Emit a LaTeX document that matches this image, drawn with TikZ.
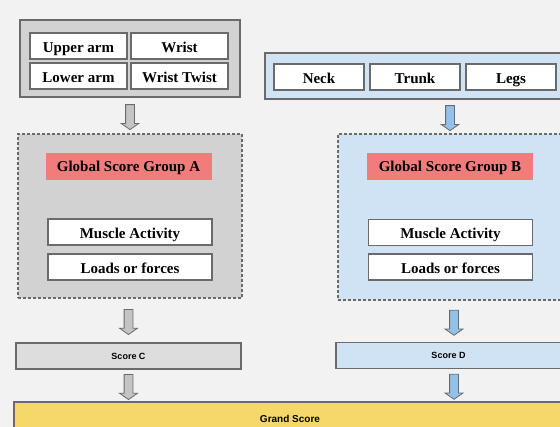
\documentclass[tikz,border=0pt]{standalone}
\usepackage{fontspec}
\setmainfont{Liberation Serif}
\newfontfamily\scorefont{Liberation Sans}
\usepackage{tikz}
\usetikzlibrary{arrows.meta}
\usetikzlibrary{calc}
\usetikzlibrary{shapes}

\definecolor{bg_gray}{HTML}{F2F2F2}
\definecolor{grp_gray}{HTML}{D2D2D2}
\definecolor{grp_blue}{HTML}{CFE3F5}
\definecolor{score_pink}{HTML}{F07C7C}
\definecolor{grand_yellow}{HTML}{F6D86A}
\definecolor{line_gray}{HTML}{6A6A6A}
\definecolor{arrow_gray}{HTML}{C4C4C4}
\definecolor{arrow_blue}{HTML}{92C2EA}

\begin{document}
\begin{tikzpicture}[x=1pt, y=-1pt,
        group_style/.style={rectangle,draw=line_gray,line width=1.6pt,inner sep=0pt},
        dashed_group_style/.style={rectangle,draw=line_gray,line width=1.2pt,dash pattern=on 3pt off 2pt,inner sep=0pt},
        part_style/.style={rectangle,draw=line_gray,fill=white,line width=1.3pt,inner sep=0pt,text height=13pt,text depth=0pt,font=\fontsize{15}{15}\selectfont\bfseries},
        global_style/.style={rectangle,fill=score_pink,inner sep=0pt,text height=11pt,text depth=1pt,minimum width=166pt,minimum height=27pt,font=\fontsize{15}{15}\selectfont\bfseries},
        score_style/.style={rectangle,draw=line_gray,line width=1.3pt,inner sep=0pt,minimum width=225pt,minimum height=26pt,font=\scorefont\fontsize{9}{9}\selectfont\bfseries},
        arrow_style/.style={single arrow,draw=line_gray,line width=0.8pt,shape border rotate=270,inner sep=4pt,single arrow head extend=4.5pt,single arrow tip angle=110,minimum height=25pt}]

        \clip (0,0) rectangle (560,427);
        \fill [bg_gray] (0,0) rectangle (560,427);

        % Group A inputs
        \node [group_style,fill=grp_gray,minimum width=220pt,minimum height=77pt](armgrp) at (130,58.5) {};

        \node [part_style,minimum width=97pt,minimum height=26pt](upperarm) at (78.5,46) {Upper arm};

        \node [part_style,minimum width=97pt,minimum height=26pt](wrist) at (179.5,46) {Wrist};

        \node [part_style,minimum width=97pt,minimum height=26pt](lowerarm) at (78.5,76) {Lower arm};

        \node [part_style,minimum width=97pt,minimum height=26pt](twist) at (179.5,76) {Wrist Twist};

        % Group B inputs
        \node [group_style,fill=grp_blue,minimum width=300pt,minimum height=46pt](bodygrp) at (415,76) {};

        \node [part_style,minimum width=90pt,minimum height=26pt](neck) at (319,77) {Neck};

        \node [part_style,minimum width=90pt,minimum height=26pt](trunk) at (415,77) {Trunk};

        \node [part_style,minimum width=90pt,minimum height=26pt](legs) at (511,77) {Legs};

        % global score groups
        \node [dashed_group_style,fill=grp_gray,minimum width=224pt,minimum height=164pt](grpA) at (130,216) {};

        \node [global_style](globalA) at (128.5,166.5) {Global Score Group A};

        \node [part_style,minimum width=164pt,minimum height=26pt](muscleA) at (130,232) {Muscle Activity};

        \node [part_style,minimum width=164pt,minimum height=26pt](loadsA) at (130,267) {Loads or forces};

        \node [dashed_group_style,fill=grp_blue,minimum width=224pt,minimum height=166pt](grpB) at (450,217) {};

        \node [global_style](globalB) at (450,166.5) {Global Score Group B};

        \node [part_style,minimum width=164pt,minimum height=26pt](muscleB) at (450.5,232.5) {Muscle Activity};

        \node [part_style,minimum width=164pt,minimum height=26pt](loadsB) at (450.5,267) {Loads or forces};

        % scores
        \node [score_style,fill=grp_gray!75](scoreC) at (128.5,356) {Score C};

        \node [score_style,fill=grp_blue](scoreD) at (448.5,355.5) {Score D};

        \node [rectangle,draw=line_gray,line width=1.3pt,fill=grand_yellow,minimum width=552pt,minimum height=34pt,font=\scorefont\fontsize{10}{10}\selectfont\bfseries](grand) at (290,419) {Grand Score};

        % block arrows
        \path (armgrp.south) -- node[arrow_style,fill=arrow_gray]{} (grpA.north);

        \path (bodygrp.south -| grpB.north) -- node[arrow_style,fill=arrow_blue]{} (grpB.north);

        \path (grpA.south -| scoreC.north) -- node[arrow_style,fill=arrow_gray]{} (scoreC.north);

        \path (grpB.south -| 454,0) -- node[arrow_style,fill=arrow_blue]{} (scoreD.north -| 454,0);

        \path (scoreC.south) -- node[arrow_style,fill=arrow_gray]{} (grand.north -| scoreC.south);

        \path (scoreD.south -| 454,0) -- node[arrow_style,fill=arrow_blue]{} (grand.north -| 454,0);

        \end{tikzpicture}
\end{document}
